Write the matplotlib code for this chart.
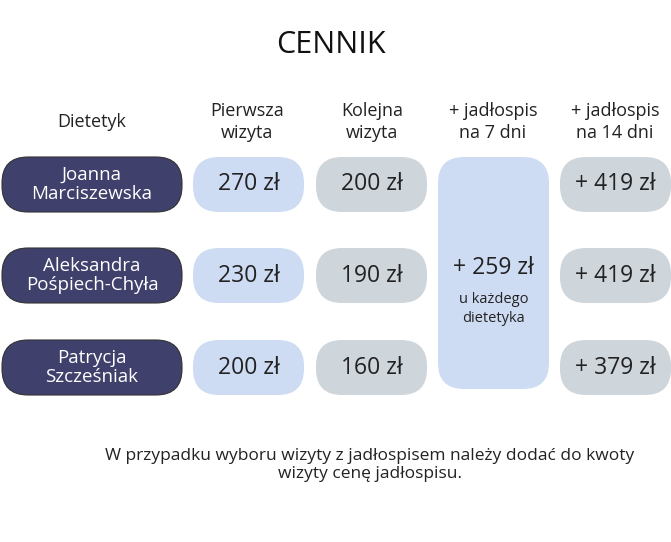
import matplotlib
matplotlib.use("Agg")
import matplotlib.pyplot as plt
from matplotlib.patches import FancyBboxPatch

names = ["Joanna\nMarciszewska", "Aleksandra\nPośpiech-Chyła", "Patrycja\nSzcześniak"]
first_visit = ["270 zł", "230 zł", "200 zł"]
next_visit = ["200 zł", "190 zł", "160 zł"]
plan7 = "+ 259 zł"
plan14 = ["+ 419 zł", "+ 419 zł", "+ 379 zł"]
headers = ["Dietetyk", "Pierwsza\nwizyta", "Kolejna\nwizyta", "+ jadłospis\nna 7 dni", "+ jadłospis\nna 14 dni"]

W, H = 671, 542
fig = plt.figure(figsize=(W/100, H/100), dpi=100)
ax = fig.add_axes([0, 0, 1, 1])
ax.set_xlim(0, W); ax.set_ylim(H, 0); ax.axis("off")
FONT = "Open Sans"
NAVY, BLUE, GREY = "#40406c", "#cedcf3", "#ced6dc"

def pill(x0, y0, w, h, color, r=26, ec="none", lw=0.8):
    ax.add_patch(FancyBboxPatch((x0 + r, y0 + r), w - 2*r, h - 2*r,
                                boxstyle=f"round,pad={r}", fc=color, ec=ec, lw=lw))

ax.text(331, 45, "CENNIK", ha="center", va="center", fontsize=22, family=FONT, color="#111")
hx = [92, 247, 372, 493, 615]
for x, t in zip(hx, headers):
    ax.text(x, 122, t, ha="center", va="center", fontsize=13, family=FONT, color="#222", linespacing=1.3)

rows_y = [157, 248, 340]
rh = 55
for i, y in enumerate(rows_y):
    pill(2, y, 180, rh, NAVY, ec="#333")
    ax.text(92, y + rh/2, names[i], ha="center", va="center", fontsize=13.5, family=FONT,
            color="white", linespacing=1.1)
    pill(193, y, 111, rh, BLUE)
    ax.text(248.5, y + rh/2, first_visit[i], ha="center", va="center", fontsize=16.5, family=FONT, color="#222")
    pill(316, y, 111, rh, GREY)
    ax.text(371.5, y + rh/2, next_visit[i], ha="center", va="center", fontsize=16.5, family=FONT, color="#222")
    pill(560, y, 111, rh, GREY)
    ax.text(615.5, y + rh/2, plan14[i], ha="center", va="center", fontsize=16.5, family=FONT, color="#222")

pill(438, 157, 111, 232, BLUE)
ax.text(493.5, 268, plan7, ha="center", va="center", fontsize=16.5, family=FONT, color="#222")
ax.text(493.5, 309, "u każdego\ndietetyka", ha="center", va="center", fontsize=10.5, family=FONT,
        color="#222", linespacing=1.3)

ax.text(370, 465, "W przypadku wyboru wizyty z jadłospisem należy dodać do kwoty\nwizyty cenę jadłospisu.",
        ha="center", va="center", fontsize=12.5, family=FONT, color="#222", linespacing=1.25)

fig.savefig("out.png", dpi=100)
